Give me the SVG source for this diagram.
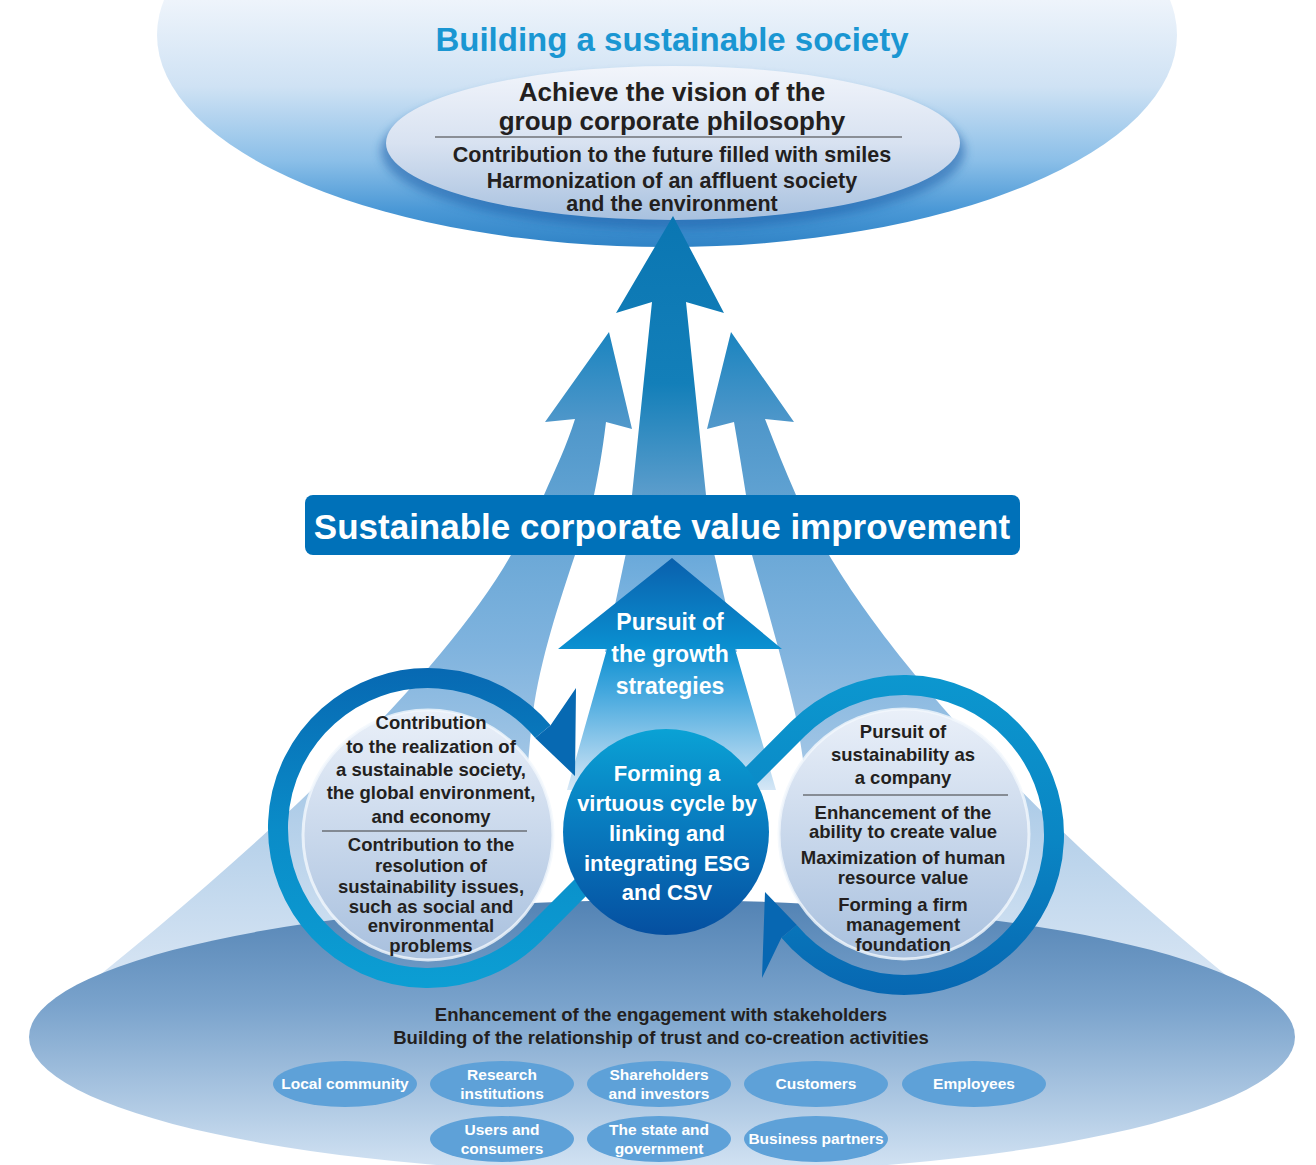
<svg xmlns="http://www.w3.org/2000/svg" width="1316" height="1165" viewBox="0 0 1316 1165">
<defs>
<linearGradient id="gTop" gradientUnits="userSpaceOnUse" x1="0" y1="0" x2="0" y2="247">
<stop offset="0" stop-color="#eef4fb"/><stop offset="0.35" stop-color="#cfe2f4"/><stop offset="0.65" stop-color="#8bbfe8"/><stop offset="0.85" stop-color="#4a98d6"/><stop offset="1" stop-color="#2f83c6"/>
</linearGradient>
<linearGradient id="gInner" gradientUnits="userSpaceOnUse" x1="0" y1="66" x2="0" y2="220">
<stop offset="0" stop-color="#f2f5fb"/><stop offset="0.5" stop-color="#d8e2f1"/><stop offset="1" stop-color="#a8c1df"/>
</linearGradient>
<linearGradient id="gBig" gradientUnits="userSpaceOnUse" x1="0" y1="216" x2="0" y2="495">
<stop offset="0" stop-color="#0a76b2"/><stop offset="0.6" stop-color="#137fb9"/><stop offset="1" stop-color="#5c9dcc"/>
</linearGradient>
<linearGradient id="gSide" gradientUnits="userSpaceOnUse" x1="0" y1="332" x2="0" y2="1030">
<stop offset="0" stop-color="#1a84bf"/><stop offset="0.13" stop-color="#4f97ca"/><stop offset="0.25" stop-color="#62a3d3"/><stop offset="0.45" stop-color="#7fb3de"/><stop offset="0.7" stop-color="#b3cfe9"/><stop offset="1" stop-color="#e3ecf7"/>
</linearGradient>
<linearGradient id="gColumn" gradientUnits="userSpaceOnUse" x1="0" y1="555" x2="0" y2="660">
<stop offset="0" stop-color="#6aa9da"/><stop offset="1" stop-color="#8fc0e6"/>
</linearGradient>
<linearGradient id="gPursuit" gradientUnits="userSpaceOnUse" x1="0" y1="558" x2="0" y2="790">
<stop offset="0" stop-color="#0a60ad"/><stop offset="0.38" stop-color="#0a8fd0"/><stop offset="0.58" stop-color="#45a8de"/><stop offset="1" stop-color="#d6e7f6"/>
</linearGradient>
<linearGradient id="gBottom" gradientUnits="userSpaceOnUse" x1="0" y1="900" x2="0" y2="1165">
<stop offset="0" stop-color="#5383b4"/><stop offset="0.4" stop-color="#7aa3cc"/><stop offset="1" stop-color="#d0e1f2"/>
</linearGradient>
<linearGradient id="gLRing" gradientUnits="userSpaceOnUse" x1="0" y1="665" x2="0" y2="995">
<stop offset="0" stop-color="#0768b2"/><stop offset="0.5" stop-color="#0a8cc8"/><stop offset="1" stop-color="#0c9fd4"/>
</linearGradient>
<linearGradient id="gRRing" gradientUnits="userSpaceOnUse" x1="0" y1="675" x2="0" y2="1000">
<stop offset="0" stop-color="#0c97cf"/><stop offset="0.5" stop-color="#0a86c4"/><stop offset="1" stop-color="#0766b1"/>
</linearGradient>
<linearGradient id="gCenter" gradientUnits="userSpaceOnUse" x1="0" y1="729" x2="0" y2="935">
<stop offset="0" stop-color="#0aa2d5"/><stop offset="0.5" stop-color="#0878bd"/><stop offset="1" stop-color="#054fa0"/>
</linearGradient>
<linearGradient id="gTextCircle" x1="0" y1="0" x2="0" y2="1">
<stop offset="0" stop-color="#eaf0f9"/><stop offset="1" stop-color="#a8c0de"/>
</linearGradient>
<filter id="blur" x="-20%" y="-20%" width="140%" height="140%"><feGaussianBlur stdDeviation="5"/></filter>
<style>
text{font-family:"Liberation Sans",Arial,sans-serif;font-weight:bold;text-anchor:middle}
.dark{fill:#231f20}
.white{fill:#ffffff}
.t18{font-size:18.5px}
.stake ellipse{fill:#5ea1d8}
.stake text{font-size:15.5px;fill:#ffffff}
.div{stroke:#3a3a3a;stroke-width:1.2}
.tc{fill:url(#gTextCircle);stroke:#f2f8fd;stroke-width:3;stroke-opacity:0.8}
.loop{fill:none;stroke-width:20}
</style>
</defs>

<rect width="1316" height="1165" fill="#ffffff"/>

<g id="society">
<ellipse cx="667" cy="35" rx="510" ry="212" fill="url(#gTop)"/>
<text x="672" y="51" style="font-size:33px;fill:#1a96d2">Building a sustainable society</text>
</g>

<g id="vision">
<ellipse cx="673" cy="151" rx="292" ry="78" fill="#1c5ea8" opacity="0.55" filter="url(#blur)"/>
<ellipse cx="673" cy="143" rx="287" ry="77" fill="url(#gInner)"/>
<text class="dark" x="672" y="101" style="font-size:26px">Achieve the vision of the</text>
<text class="dark" x="672" y="130" style="font-size:26px">group corporate philosophy</text>
<line class="div" x1="435" y1="137" x2="902" y2="137"/>
<text class="dark" x="672" y="162" style="font-size:21.5px">Contribution to the future filled with smiles</text>
<text class="dark" x="672" y="188" style="font-size:21.5px">Harmonization of an affluent society</text>
<text class="dark" x="672" y="211" style="font-size:21.5px">and the environment</text>
</g>

<g id="connectors">
<path id="left-arrow" fill="url(#gSide)" d="M609,332 L632,429 L606,422 C602,455 598,475 594,495 C588,520 582,540 575,555 C560,600 540,660 533,713 C525,780 522,850 525,920 L30,1030 C250,860 440,680 511,555 C525,530 536,510 544,495 C555,470 567,445 575,419 L545,422 Z"/>
<path id="right-arrow" fill="url(#gSide)" d="M731,332 L794,422 L765,419 C775,445 785,470 796,495 C805,515 815,535 829,555 C880,640 1000,800 1295,1030 L820,920 C815,850 805,760 795,713 C785,670 765,600 752,555 C749,530 747,510 746,495 C742,470 738,445 734,422 L707,429 Z"/>
<path id="center-arrow" fill="url(#gBig)" d="M673,216 L724,313 L686,302 L706,495 L632,495 L652,302 L616,313 Z"/>
<path id="column" fill="url(#gColumn)" d="M626,553 L714,553 L737,652 L605,652 Z"/>
<path id="pursuit-arrow" fill="url(#gPursuit)" d="M672,558 L782,649 L735,649 L776,790 L567,790 L607,649 L558,649 Z"/>
</g>

<g id="value-box">
<rect x="305" y="495" width="715" height="60" rx="8" fill="#0071b9"/>
<text class="white" x="662" y="539" style="font-size:35px">Sustainable corporate value improvement</text>
</g>

<g id="pursuit-label">
<text class="white" x="670" y="630" style="font-size:23px">Pursuit of</text>
<text class="white" x="670" y="662" style="font-size:23px">the growth</text>
<text class="white" x="670" y="694" style="font-size:23px">strategies</text>
</g>

<g id="stakeholder-base">
<ellipse cx="662" cy="1037" rx="633" ry="137" fill="url(#gBottom)"/>
<text class="dark t18" x="661" y="1021">Enhancement of the engagement with stakeholders</text>
<text class="dark t18" x="661" y="1044">Building of the relationship of trust and co-creation activities</text>
</g>

<g id="loops">
<path class="loop" stroke="url(#gLRing)" d="M584,884 L534.07,934.07 A150,150 0 1 1 542.9,731.6"/>
<polygon fill="#0769b2" points="550.6,725.2 576,688 575,776 535.2,738"/>
<path class="loop" stroke="url(#gRRing)" d="M738,789 L797.93,728.93 A150,150 0 1 1 789.1,931.4"/>
<polygon fill="#0767b2" points="781.4,937.8 762,978 765,892 796.8,925"/>
</g>

<g id="left-circle">
<circle class="tc" cx="428" cy="835" r="125"/>
<text class="dark t18" x="431" y="729">Contribution</text>
<text class="dark t18" x="431" y="753">to the realization of</text>
<text class="dark t18" x="431" y="776">a sustainable society,</text>
<text class="dark t18" x="431" y="799">the global environment,</text>
<text class="dark t18" x="431" y="823">and economy</text>
<line class="div" x1="322" y1="831" x2="527" y2="831"/>
<text class="dark t18" x="431" y="851">Contribution to the</text>
<text class="dark t18" x="431" y="872">resolution of</text>
<text class="dark t18" x="431" y="893">sustainability issues,</text>
<text class="dark t18" x="431" y="913">such as social and</text>
<text class="dark t18" x="431" y="932">environmental</text>
<text class="dark t18" x="431" y="952">problems</text>
</g>

<g id="right-circle">
<circle class="tc" cx="904" cy="834" r="125"/>
<text class="dark t18" x="903" y="738">Pursuit of</text>
<text class="dark t18" x="903" y="761">sustainability as</text>
<text class="dark t18" x="903" y="784">a company</text>
<line class="div" x1="803" y1="795" x2="1008" y2="795"/>
<text class="dark t18" x="903" y="819">Enhancement of the</text>
<text class="dark t18" x="903" y="838">ability to create value</text>
<text class="dark t18" x="903" y="864">Maximization of human</text>
<text class="dark t18" x="903" y="884">resource value</text>
<text class="dark t18" x="903" y="911">Forming a firm</text>
<text class="dark t18" x="903" y="931">management</text>
<text class="dark t18" x="903" y="951">foundation</text>
</g>

<g id="center-circle">
<circle cx="666" cy="832" r="103" fill="url(#gCenter)"/>
<text class="white" x="667" y="781" style="font-size:22px">Forming a</text>
<text class="white" x="667" y="811" style="font-size:22px">virtuous cycle by</text>
<text class="white" x="667" y="841" style="font-size:22px">linking and</text>
<text class="white" x="667" y="871" style="font-size:22px">integrating ESG</text>
<text class="white" x="667" y="900" style="font-size:22px">and CSV</text>
</g>

<g id="stakeholders" class="stake">
<g id="local-community"><ellipse cx="345" cy="1084" rx="72" ry="23"/><text x="345" y="1089">Local community</text></g>
<g id="research-institutions"><ellipse cx="502" cy="1084" rx="72" ry="23"/><text x="502" y="1080">Research</text><text x="502" y="1099">institutions</text></g>
<g id="shareholders"><ellipse cx="659" cy="1084" rx="72" ry="23"/><text x="659" y="1080">Shareholders</text><text x="659" y="1099">and investors</text></g>
<g id="customers"><ellipse cx="816" cy="1084" rx="72" ry="23"/><text x="816" y="1089">Customers</text></g>
<g id="employees"><ellipse cx="974" cy="1084" rx="72" ry="23"/><text x="974" y="1089">Employees</text></g>
<g id="users-consumers"><ellipse cx="502" cy="1139" rx="72" ry="23"/><text x="502" y="1135">Users and</text><text x="502" y="1154">consumers</text></g>
<g id="state-government"><ellipse cx="659" cy="1139" rx="72" ry="23"/><text x="659" y="1135">The state and</text><text x="659" y="1154">government</text></g>
<g id="business-partners"><ellipse cx="816" cy="1139" rx="72" ry="23"/><text x="816" y="1144">Business partners</text></g>
</g>
</svg>
